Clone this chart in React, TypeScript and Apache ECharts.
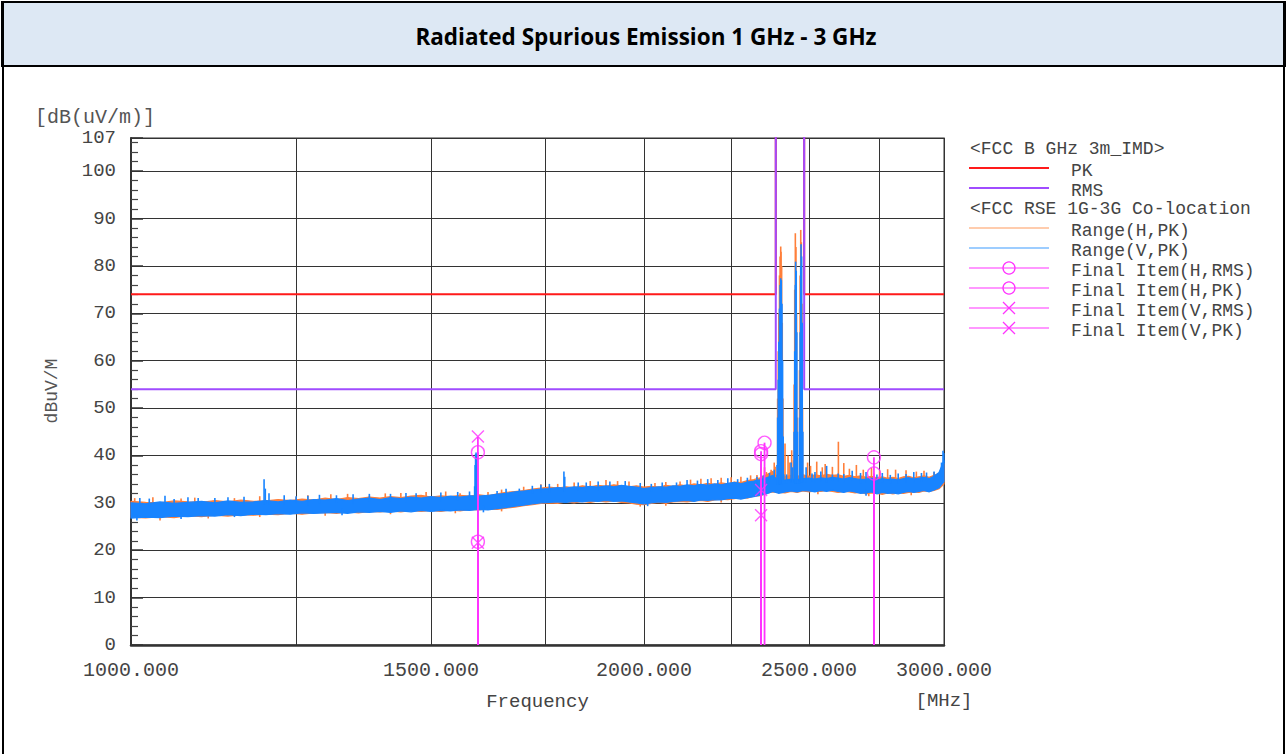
import React, { useEffect, useRef } from 'react';
import * as echarts from 'echarts';

// ---------- DATA ----------
const bandFreq = [
  1000, 1020, 1040, 1060, 1080, 1100, 1120, 1140, 1160, 1180,
  1200, 1220, 1240, 1260, 1280, 1300, 1320, 1340, 1360, 1380,
  1400, 1420, 1440, 1460, 1480, 1500, 1520, 1540, 1560, 1580,
  1600, 1620, 1640, 1660, 1680, 1700, 1720, 1740, 1760, 1780,
  1800, 1820, 1840, 1860, 1880, 1900, 1920, 1940, 1960, 1980,
  2000, 2020, 2040, 2060, 2080, 2100, 2120, 2140, 2160, 2180,
  2200, 2220, 2240, 2260, 2280, 2300, 2320, 2340, 2360, 2380,
  2400, 2420, 2440, 2460, 2480, 2500, 2520, 2540, 2560, 2580,
  2600, 2620, 2640, 2660, 2680, 2700, 2720, 2740, 2760, 2780,
  2800, 2820, 2840, 2860, 2880, 2900, 2920, 2940, 2960, 2980,
  3000,
];

// Range(V,PK) noise band (top / bottom of the trace)
const vHi = [
  30.0, 29.8, 30.2, 29.9, 30.1, 30.3, 30.0, 30.4, 30.1, 30.2,
  30.5, 30.2, 30.6, 30.3, 30.7, 30.6, 30.9, 30.5, 30.8, 31.0,
  30.7, 31.1, 30.9, 31.2, 31.0, 31.3, 31.1, 31.4, 31.2, 31.5,
  31.4, 31.6, 31.8, 32.0, 32.3, 32.5, 32.7, 32.9, 33.0, 33.2,
  33.1, 33.4, 33.2, 33.5, 33.3, 33.6, 33.4, 33.7, 33.5, 33.3,
  33.0, 33.2, 33.4, 33.3, 33.6, 33.5, 33.8, 33.6, 33.9, 33.7,
  34.0, 33.8, 34.1, 34.3, 34.0, 34.4, 34.6, 34.9, 35.3, 35.8,
  34.6, 34.8, 35.0, 34.9, 35.1, 35.2, 35.0, 35.3, 35.1, 35.4,
  35.2, 35.0, 35.3, 35.1, 34.9, 35.0, 35.2, 34.8, 35.1, 34.9,
  35.0, 34.8, 35.1, 35.3, 35.0, 35.2, 35.4, 35.1, 35.6, 36.4,
  39.0,
];
const vLo = [
  26.8, 27.0, 26.9, 27.2, 27.1, 27.3, 27.2, 27.5, 27.3, 27.6,
  27.5, 27.7, 27.6, 27.9, 27.8, 27.9, 28.0, 27.8, 28.1, 28.0,
  28.2, 28.0, 28.3, 28.1, 28.4, 28.2, 28.4, 28.3, 28.5, 28.4,
  28.6, 28.5, 28.8, 29.0, 29.3, 29.5, 29.8, 30.0, 30.1, 30.2,
  30.1, 30.3, 30.2, 30.4, 30.3, 30.5, 30.3, 30.4, 30.2, 30.0,
  29.8, 30.0, 30.2, 30.1, 30.3, 30.4, 30.5, 30.3, 30.6, 30.5,
  30.7, 30.6, 30.9, 31.0, 30.8, 31.1, 31.3, 31.6, 31.9, 32.4,
  32.0, 32.3, 32.5, 32.3, 32.6, 32.5, 32.3, 32.6, 32.4, 32.7,
  32.4, 32.2, 32.5, 32.3, 32.0, 32.1, 32.3, 31.9, 32.2, 32.0,
  32.1, 31.9, 32.2, 32.4, 32.2, 32.4, 32.6, 32.3, 32.7, 33.2,
  34.5,
];

// Range(H,PK) noise band
const hHi = [
  30.3, 30.1, 30.0, 30.4, 30.2, 30.1, 30.5, 30.2, 30.6, 30.3,
  30.4, 30.7, 30.5, 30.8, 30.6, 31.0, 30.7, 31.1, 30.9, 31.2,
  31.0, 31.3, 31.1, 31.4, 31.6, 31.2, 31.5, 31.3, 31.6, 31.4,
  31.7, 31.5, 31.9, 32.2, 32.4, 32.6, 32.9, 33.1, 33.3, 33.1,
  33.4, 33.2, 33.6, 33.4, 33.7, 33.5, 33.8, 33.6, 33.4, 33.6,
  33.3, 33.5, 33.3, 33.7, 33.5, 33.8, 33.6, 34.0, 33.8, 34.1,
  33.9, 34.2, 34.0, 34.4, 34.3, 34.7, 34.9, 35.3, 35.9, 36.6,
  35.2, 35.5, 35.8, 35.6, 35.9, 35.6, 35.9, 35.7, 36.0, 35.8,
  35.9, 35.6, 35.8, 35.5, 35.7, 35.4, 35.6, 35.3, 35.5, 35.2,
  35.4, 35.1, 35.5, 35.6, 35.3, 35.5, 35.7, 35.4, 35.8, 36.2,
  38.0,
];
const hLo = [
  27.0, 26.8, 27.1, 26.9, 27.3, 27.1, 27.4, 27.2, 27.5, 27.4,
  27.6, 27.5, 27.8, 27.6, 27.9, 28.0, 27.8, 28.1, 27.9, 28.2,
  28.1, 28.3, 28.1, 28.4, 28.2, 28.4, 28.2, 28.5, 28.3, 28.6,
  28.5, 28.7, 28.6, 28.9, 29.1, 29.4, 29.6, 29.9, 30.0, 29.9,
  30.2, 30.0, 30.3, 30.1, 30.4, 30.2, 30.4, 30.1, 30.0, 29.7,
  29.6, 29.9, 30.1, 29.9, 30.2, 30.3, 30.2, 30.4, 30.5, 30.3,
  30.6, 30.8, 30.7, 30.9, 31.1, 31.0, 31.4, 31.5, 32.0, 32.3,
  32.2, 32.1, 32.4, 32.2, 32.5, 32.3, 32.5, 32.4, 32.6, 32.4,
  32.2, 32.4, 32.3, 32.1, 32.2, 31.9, 32.1, 32.0, 31.8, 32.1,
  31.9, 32.1, 32.0, 32.2, 32.3, 32.2, 32.5, 32.4, 32.6, 33.0,
  34.0,
];

// narrow peaks of Range(V,PK): [MHz, dBuV/m]
const vPeaks: [number, number][] = [
  [1012, 31.0], [1025, 30.9], [1047, 31.5], [1060, 30.8], [1080, 31.2], [1095, 31.0],
  [1120, 31.0], [1140, 31.2], [1165, 31.3], [1197, 35.0], [1199, 33.0], [1205, 32.0],
  [1230, 31.6], [1250, 31.4], [1270, 31.5], [1290, 31.7], [1320, 31.6], [1350, 31.8],
  [1380, 31.9], [1420, 31.9], [1450, 32.1], [1470, 32.0], [1520, 32.2], [1555, 32.3],
  [1580, 32.4],
  [1591, 33.5], [1592, 38.0], [1593, 40.3], [1594, 40.6], [1595, 40.2], [1596, 38.0], [1597, 34.0],
  [1640, 32.5], [1660, 33.0], [1690, 33.0], [1720, 33.6], [1740, 33.8], [1760, 34.0],
  [1795, 36.6], [1797, 35.5], [1830, 34.3], [1850, 34.3], [1880, 34.5], [1910, 34.5],
  [1950, 34.6], [1990, 34.2], [2020, 34.0], [2050, 34.3], [2090, 34.3], [2120, 34.8],
  [2150, 34.7], [2180, 35.0], [2210, 34.8], [2240, 35.2], [2270, 35.0], [2300, 35.3],
  [2330, 35.5], [2350, 35.8], [2370, 36.3], [2385, 37.0],
  [2394, 38.0], [2396, 48.0], [2398, 56.0], [2400, 64.0], [2402, 71.0], [2404, 76.0],
  [2406, 77.4], [2408, 77.0], [2410, 72.0], [2412, 60.0], [2414, 44.0], [2416, 36.0],
  [2425, 36.0], [2440, 38.5], [2445, 37.5],
  [2450, 45.0], [2452, 62.0], [2454, 76.0], [2455, 80.9], [2457, 79.0], [2459, 66.0], [2461, 45.0],
  [2468, 48.0], [2470, 66.0], [2472, 80.0], [2473, 84.6], [2475, 82.0], [2477, 68.0], [2479, 45.0],
  [2490, 37.5], [2510, 36.2], [2520, 36.5], [2540, 36.6], [2560, 37.8], [2580, 36.0],
  [2600, 36.2], [2620, 36.1], [2650, 36.8], [2680, 36.3], [2700, 36.5], [2729, 36.0],
  [2740, 36.0], [2760, 36.3], [2790, 35.9], [2820, 36.2], [2850, 36.1], [2880, 36.5],
  [2910, 36.3], [2930, 36.4], [2960, 36.6], [2990, 38.5], [2996, 41.0], [2999, 40.5],
];

// narrow dips of Range(V,PK)
const vDips: [number, number][] = [
  [1008, 26.3], [1070, 26.6], [1150, 27.0], [1330, 27.4], [1610, 28.0], [2010, 29.3], [2700, 31.5],
];

// narrow peaks of Range(H,PK)
const hPeaks: [number, number][] = [
  [1005, 31.0], [1030, 31.2], [1070, 30.9], [1090, 31.1], [1150, 31.0], [1190, 31.4],
  [1250, 31.3], [1270, 31.6], [1310, 31.8], [1340, 31.9], [1380, 31.5], [1410, 32.0],
  [1440, 32.1], [1490, 32.3], [1530, 32.4], [1560, 32.0], [1620, 32.3], [1650, 32.8],
  [1700, 33.4], [1740, 33.9], [1780, 34.0], [1820, 34.3], [1860, 34.6], [1900, 34.8],
  [1930, 34.6], [1960, 34.5], [2030, 34.2], [2060, 34.4], [2100, 34.5], [2130, 34.9],
  [2160, 35.1], [2190, 35.2], [2220, 35.3], [2250, 35.4], [2280, 35.5], [2310, 35.8],
  [2330, 35.9], [2343, 39.5], [2354, 37.5], [2360, 36.5], [2375, 37.0],
  [2385, 38.5], [2388, 37.6],
  [2396, 52.0], [2398, 62.0], [2400, 70.0], [2402, 78.0], [2404, 82.0], [2406, 84.1],
  [2407, 83.0], [2409, 80.0], [2411, 68.0], [2413, 52.0], [2415, 40.0],
  [2420, 42.5], [2430, 40.0], [2436, 38.5], [2442, 41.1], [2448, 39.0],
  [2450, 55.0], [2452, 75.0], [2454, 86.9], [2456, 84.0], [2458, 70.0], [2460, 48.0],
  [2468, 58.0], [2470, 78.0], [2472, 87.6], [2474, 85.0], [2476, 72.0], [2478, 50.0],
  [2495, 38.5], [2505, 37.8], [2526, 38.7], [2545, 37.5], [2555, 38.2], [2580, 37.6],
  [2601, 42.9], [2620, 38.4], [2640, 37.2], [2665, 38.0], [2690, 37.0], [2720, 37.4],
  [2750, 36.8], [2780, 37.1], [2810, 37.0], [2850, 36.9], [2890, 36.6], [2920, 36.8],
  [2960, 36.5],
];

// narrow dips of Range(H,PK)
const hDips: [number, number][] = [
  [1040, 26.3], [1110, 26.7], [1190, 27.0], [1300, 27.3], [1420, 27.6], [1550, 27.8],
  [1650, 28.2], [1990, 29.2], [2060, 29.4], [2220, 30.1], [2530, 31.8], [2710, 31.4],
  [2870, 31.6],
];

// Limits <FCC B GHz 3m_IMD> (120 = above the plotted range)
const pkLimitFreq = [1000, 2390, 2390, 2483.5, 2483.5, 3000];
const pkLimitLevel = [74, 74, 120, 120, 74, 74];
const rmsLimitFreq = [1000, 2390, 2390, 2483.5, 2483.5, 3000];
const rmsLimitLevel = [54, 54, 120, 120, 54, 54];

// Final items: [MHz, dBuV/m]
const finalHRms: [number, number][] = [[1598, 21.8], [2343, 40.3], [2729, 36.2]];
const finalHPk: [number, number][] = [[1598, 40.7], [2343, 40.9], [2354, 42.7], [2729, 39.6]];
const finalVRms: [number, number][] = [[1598, 21.6], [2343, 27.4]];
const finalVPk: [number, number][] = [[1598, 44.0], [2343, 32.7]];

// axis ticks
const xGridFreq = [1000, 1250, 1500, 1750, 2000, 2250, 2500, 2750, 3000];
const xLabelFreq = [1000, 1500, 2000, 2500, 3000];

// ---------- CHART ----------
const lg = (f: number) => Math.log10(f);
const X_MIN = lg(1000);
const X_MAX = lg(3000);

const RED = '#ff1a1a';
const PURPLE = '#a04cff';
const ORANGE = '#ff7f3a';
const BLUE = '#1884ff';
const MAGENTA = '#ff33ff';
const MONO = '"Liberation Mono", "DejaVu Sans Mono", monospace';

function nearestIdx(f: number) {
  let best = 0;
  for (let i = 1; i < bandFreq.length; i++) {
    if (Math.abs(bandFreq[i] - f) < Math.abs(bandFreq[best] - f)) best = i;
  }
  return best;
}

function bandSeries(name: string, hi: number[], lo: number[], color: string, z: number) {
  return {
    type: 'custom',
    name,
    z,
    silent: true,
    data: [[X_MIN, hi[0]]],
    renderItem: (_p: any, api: any) => {
      const pts: number[][] = [];
      for (let i = 0; i < bandFreq.length; i++) pts.push(api.coord([lg(bandFreq[i]), hi[i]]));
      for (let i = bandFreq.length - 1; i >= 0; i--) pts.push(api.coord([lg(bandFreq[i]), lo[i]]));
      return {
        type: 'polygon',
        shape: { points: pts },
        style: { fill: color, stroke: color, lineWidth: 1.2 },
      };
    },
  };
}

// vertical strokes from inside the band out to the listed level
function edgeSeries(name: string, list: [number, number][], edge: number[], offset: number, color: string, z: number) {
  return {
    type: 'custom',
    name,
    z,
    silent: true,
    data: list.map(([f, v]) => [lg(f), v, edge[nearestIdx(f)] + offset]),
    encode: { x: 0, y: 1 },
    renderItem: (_p: any, api: any) => {
      const x = api.value(0);
      const p1 = api.coord([x, api.value(2)]);
      const p2 = api.coord([x, api.value(1)]);
      return {
        type: 'line',
        shape: { x1: p1[0], y1: p1[1], x2: p2[0], y2: p2[1] },
        style: { stroke: color, lineWidth: 1.6 },
      };
    },
  };
}

const stemData = [...finalHRms, ...finalHPk, ...finalVRms, ...finalVPk].map(([f, v]) => [lg(f), v]);

const XPATH = 'path://M0,0L10,10M10,0L0,10';

function buildLegend() {
  const els: any[] = [];
  const LX1 = 969, LX2 = 1049, TX = 1071, MX = 1009;
  const txt = (x: number, y: number, t: string) => ({
    type: 'text', x, y,
    style: { text: t, font: `18px ${MONO}`, fill: '#444', verticalAlign: 'middle', align: 'left' },
  });
  const ln = (y: number, c: string, w: number) => ({
    type: 'line', shape: { x1: LX1, y1: y, x2: LX2, y2: y }, style: { stroke: c, lineWidth: w },
  });
  els.push(txt(970, 149, '<FCC B GHz 3m_IMD>'));
  els.push(ln(168, RED, 2)); els.push(txt(TX, 171, 'PK'));
  els.push(ln(188, PURPLE, 2)); els.push(txt(TX, 191, 'RMS'));
  els.push(txt(970, 209, '<FCC RSE 1G-3G Co-location'));
  els.push(ln(228, '#ff9a5c', 1.2)); els.push(txt(TX, 231, 'Range(H,PK)'));
  els.push(ln(248, '#3d9cff', 1.2)); els.push(txt(TX, 251, 'Range(V,PK)'));
  const items: [number, string, boolean][] = [
    [268, 'Final Item(H,RMS)', true],
    [288, 'Final Item(H,PK)', true],
    [308, 'Final Item(V,RMS)', false],
    [328, 'Final Item(V,PK)', false],
  ];
  items.forEach(([y, t, circ]) => {
    els.push(ln(y, MAGENTA, 1.2));
    if (circ) {
      els.push({ type: 'circle', shape: { cx: MX, cy: y, r: 6 }, style: { fill: 'none', stroke: MAGENTA, lineWidth: 1.3 } });
    } else {
      els.push({ type: 'line', shape: { x1: MX - 6, y1: y - 6, x2: MX + 6, y2: y + 6 }, style: { stroke: MAGENTA, lineWidth: 1.3 } });
      els.push({ type: 'line', shape: { x1: MX + 6, y1: y - 6, x2: MX - 6, y2: y + 6 }, style: { stroke: MAGENTA, lineWidth: 1.3 } });
    }
    els.push(txt(TX, y + 3, t));
  });
  return els;
}

export default function App() {
  const ref = useRef<HTMLDivElement>(null);
  useEffect(() => {
    document.body.style.margin = '0';
    const chart = echarts.init(ref.current!, null, { renderer: 'svg' });
    const option: any = {
      animation: false,
      backgroundColor: '#ffffff',
      grid: {
        left: 131, right: 343, top: 138, bottom: 109,
        show: true, borderColor: '#777', borderWidth: 1.5, backgroundColor: 'transparent',
      },
      xAxis: {
        type: 'value',
        min: X_MIN,
        max: X_MAX,
        name: 'Frequency',
        nameLocation: 'middle',
        nameGap: 47,
        nameTextStyle: { fontFamily: MONO, fontSize: 19, color: '#444' },
        axisLine: { show: true, onZero: false, lineStyle: { color: '#333', width: 2.5 } },
        axisTick: { show: false, customValues: xGridFreq.map(lg) },
        splitLine: { show: true, lineStyle: { color: '#333', width: 1 } },
        axisLabel: {
          customValues: xLabelFreq.map(lg),
          formatter: (v: number) => Math.pow(10, v).toFixed(3),
          fontFamily: MONO, fontSize: 20, color: '#444', margin: 15,
        },
      },
      yAxis: {
        type: 'value',
        min: 0,
        max: 107,
        interval: 10,
        axisLine: { show: true, onZero: false, lineStyle: { color: '#333', width: 2 } },
        axisTick: { show: true, inside: true, length: 12, lineStyle: { color: '#333', width: 1.5 } },
        minorTick: { show: true, splitNumber: 5, length: 7, lineStyle: { color: '#444', width: 1.2 } },
        splitLine: { show: true, lineStyle: { color: '#333', width: 1 } },
        axisLabel: { fontFamily: MONO, fontSize: 19, color: '#444', margin: 15 },
      },
      graphic: [
        { type: 'rect', shape: { x: 2, y: 2, width: 1283, height: 64 }, style: { fill: '#dde8f4', stroke: '#000', lineWidth: 2 } },
        { type: 'line', shape: { x1: 3, y1: 2, x2: 3, y2: 754 }, style: { stroke: '#000', lineWidth: 2 } },
        { type: 'line', shape: { x1: 1284, y1: 2, x2: 1284, y2: 754 }, style: { stroke: '#000', lineWidth: 2 } },
        {
          type: 'text', x: 646, y: 36,
          style: { text: 'Radiated Spurious Emission 1 GHz - 3 GHz', font: 'bold 22.5px "Open Sans", Lato, sans-serif', fill: '#000', align: 'center', verticalAlign: 'middle' },
        },
        { type: 'text', x: 35, y: 117, style: { text: '[dB(uV/m)]', font: `20px ${MONO}`, fill: '#555', align: 'left', verticalAlign: 'middle' } },
        { type: 'text', x: 944, y: 701, style: { text: '[MHz]', font: `19px ${MONO}`, fill: '#444', align: 'center', verticalAlign: 'middle' } },
        { type: 'text', x: 52, y: 391, rotation: Math.PI / 2, style: { text: 'dBuV/M', font: `18px ${MONO}`, fill: '#555', align: 'center', verticalAlign: 'middle' } },
        ...buildLegend(),
      ],
      series: [
        bandSeries('Range(H,PK) band', hHi, hLo, ORANGE, 2),
        edgeSeries('Range(H,PK)', hPeaks, hHi, -0.8, ORANGE, 3),
        edgeSeries('Range(H,PK) dips', hDips, hLo, 0.8, ORANGE, 3),
        bandSeries('Range(V,PK) band', vHi, vLo, BLUE, 4),
        edgeSeries('Range(V,PK)', vPeaks, vHi, -0.8, BLUE, 5),
        edgeSeries('Range(V,PK) dips', vDips, vLo, 0.8, BLUE, 5),
        {
          type: 'line', name: 'PK', z: 6, symbol: 'none', clip: true,
          data: pkLimitFreq.map((f, i) => [lg(f), pkLimitLevel[i]]),
          lineStyle: { color: RED, width: 2 },
        },
        {
          type: 'line', name: 'RMS', z: 6, symbol: 'none', clip: true,
          data: rmsLimitFreq.map((f, i) => [lg(f), rmsLimitLevel[i]]),
          lineStyle: { color: PURPLE, width: 2 },
        },
        {
          type: 'custom', name: 'stems', z: 7, silent: true,
          data: stemData,
          renderItem: (_p: any, api: any) => {
            const x = api.value(0);
            const a = api.coord([x, 0]);
            const b = api.coord([x, api.value(1)]);
            return { type: 'line', shape: { x1: a[0], y1: a[1], x2: b[0], y2: b[1] }, style: { stroke: MAGENTA, lineWidth: 1.8 } };
          },
        },
        {
          type: 'scatter', name: 'Final Item(H,RMS)', z: 8, symbol: 'circle', symbolSize: 13,
          data: finalHRms.map(([f, v]) => [lg(f), v]),
          itemStyle: { color: 'rgba(0,0,0,0)', borderColor: MAGENTA, borderWidth: 1.4 },
        },
        {
          type: 'scatter', name: 'Final Item(H,PK)', z: 8, symbol: 'circle', symbolSize: 13,
          data: finalHPk.map(([f, v]) => [lg(f), v]),
          itemStyle: { color: 'rgba(0,0,0,0)', borderColor: MAGENTA, borderWidth: 1.4 },
        },
        {
          type: 'scatter', name: 'Final Item(V,RMS)', z: 8, symbol: XPATH, symbolSize: 12,
          data: finalVRms.map(([f, v]) => [lg(f), v]),
          itemStyle: { color: 'rgba(0,0,0,0)', borderColor: MAGENTA, borderWidth: 1.4 },
        },
        {
          type: 'scatter', name: 'Final Item(V,PK)', z: 8, symbol: XPATH, symbolSize: 12,
          data: finalVPk.map(([f, v]) => [lg(f), v]),
          itemStyle: { color: 'rgba(0,0,0,0)', borderColor: MAGENTA, borderWidth: 1.4 },
        },
      ],
    };
    chart.setOption(option);
    return () => chart.dispose();
  }, []);
  return <div ref={ref} style={{ width: 1287, height: 754 }} />;
}
